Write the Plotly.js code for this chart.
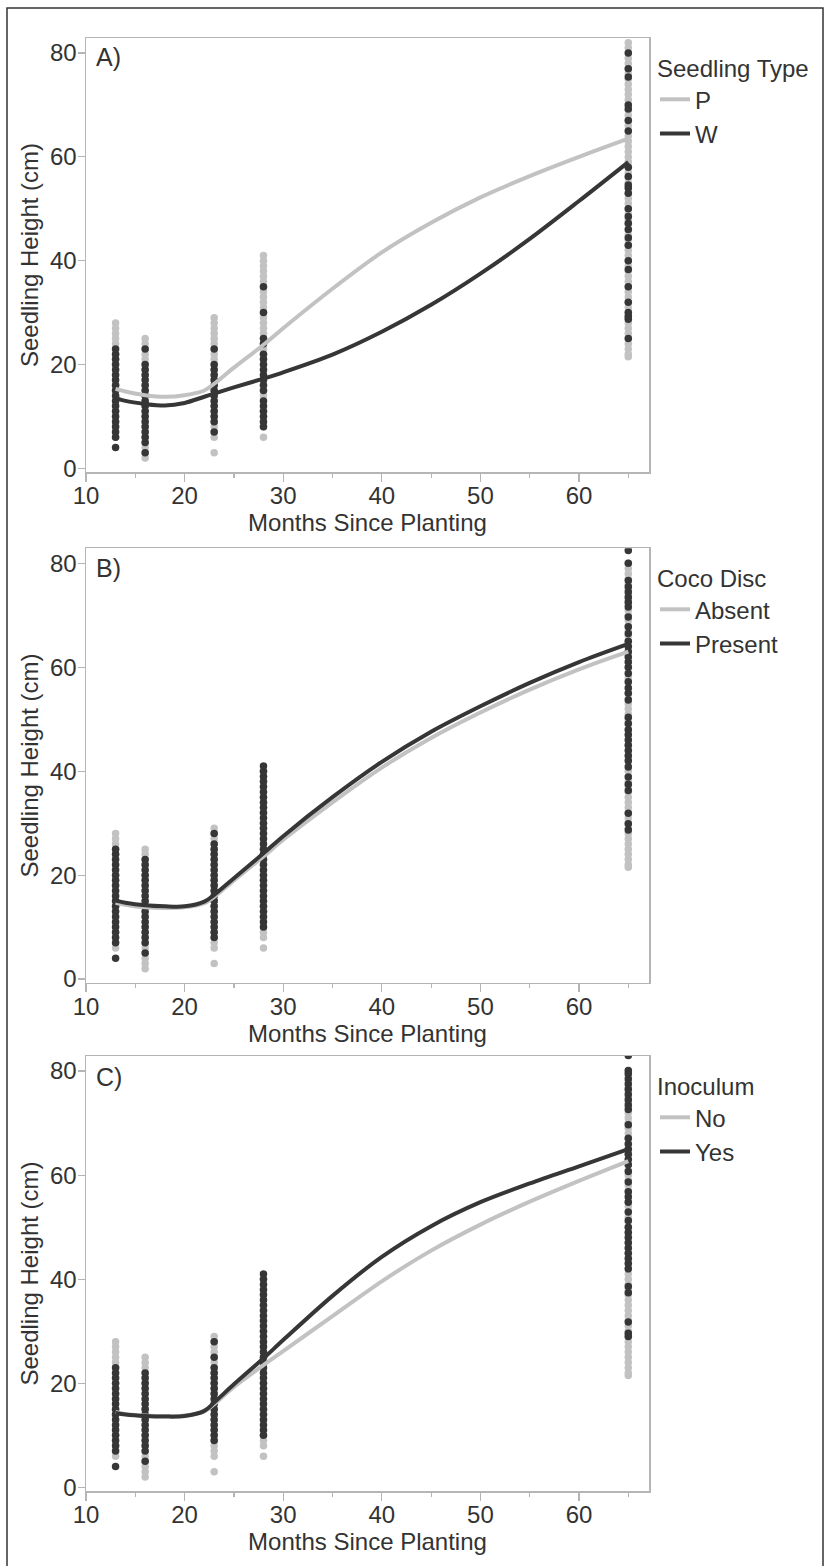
<!DOCTYPE html>
<html>
<head>
<meta charset="utf-8">
<script src="https://cdn.plot.ly/plotly-3.0.1.min.js"></script>
<style>html,body{margin:0;padding:0;background:#fff;}#chart{width:825px;height:1566px;}</style>
</head>
<body>
<div id="chart"></div>
<script>
// ---------- DATA ----------
const months = [13, 16, 23, 28, 65];

// Panel A: Seedling Type
const A_P_heights = [
  [6,7,8,9,10,11,12,13,14,15,16,17,18,19,20,21,22,23,24,25,26,27,28],
  [2,3,4,5,6,7,8,9,10,11,12,13,14,15,16,17,18,19,20,21,22,23,24,25],
  [3,6,7,8,9,10,11,12,13,14,15,16,17,18,19,20,21,22,23,24,25,26,27,28,29],
  [6,8,9,10,11,12,13,14,15,16,17,18,19,20,21,22,23,24,25,26,27,28,29,30,31,32,33,34,35,36,37,38,39,40,41],
  [21.5,22,23,24,25,26,27,28,29,30,31,32,33,34,35,36,37,38,39,40,41,42,43,44,45,46,47,48,49,50,51,52,53,54,55,56,57,58,59,60,61,62,63,64,65,66,67,68,69,70,71,72,73,74,75,76,77,78,79,80,81,82]
];
const A_W_heights = [
  [4,6,7,8,9,10,11,12,13,14,15,16,17,18,19,20,21,22,23],
  [3,5,6,7,8,9,10,11,12,13,14,15,16,17,18,19,20,23],
  [7,9,10,11,12,13,14,15,16,17,18,19,20,23],
  [8,9,10,11,12,13,15,16,17,18,19,20,21,22,24,25,30,35],
  [25,28.7,29.3,30,32,35,38.3,40,43,44.4,46,47.2,48.5,50,53,54,54.6,56.2,58,65,67,69.2,70,75.4,77,80]
];

// Panel B: Coco Disc
const B_Absent_heights = [
  [6,7,8,9,10,11,12,13,14,15,16,17,18,19,20,21,22,23,24,25,26,27,28],
  [2,3,4,5,6,7,8,9,10,11,12,13,14,15,16,17,18,19,20,21,22,23,24,25],
  [3,6,7,8,9,10,11,12,13,14,15,16,17,18,19,20,21,22,23,24,25,26,27,28,29],
  [6,8,9,10,11,12,13,14,15,16,17,18,19,20,21,22,23,24,25,26,27,28,29,30,31,32,33,34,35,36,37,38,39,40],
  [21.5,22,23,24,25,26,27,28,29,30,31,32,33,34,35,36,37,38,39,40,41,42,43,44,45,46,47,48,49,50,51,52,53,54,55,56,57,58,59,60,61,62,63,64,65,66,67,68,69,70,71,72,73,74,75,76,77,78,79,80]
];
const B_Present_heights = [
  [4,7,8,9,10,11,12,13,14,15,16,17,18,19,20,21,22,23,24,25],
  [5,7,8,9,10,11,12,13,14,15,16,17,18,19,20,21,22,23],
  [8,9,10,11,12,13,14,15,16,17,18,19,20,21,22,23,24,25,26,28],
  [10,11,12,13,14,15,16,17,18,19,20,21,22,23,24,25,26,27,28,29,30,31,32,33,34,35,36,37,38,39,40,41],
  [28.7,29.9,31.9,36.3,37.5,38.9,40.8,42,43,44,45,46,47,48,49.2,50.4,53.7,55,56,57.2,58.8,60,61,62,63,64,65,66.5,67.8,69.7,71.6,72.5,73.5,74.5,75.5,76.7,80,82.5]
];

// Panel C: Inoculum
const C_No_heights = [
  [6,7,8,9,10,11,12,13,14,15,16,17,18,19,20,21,22,23,24,25,26,27,28],
  [2,3,4,5,6,7,8,9,10,11,12,13,14,15,16,17,18,19,20,21,22,23,24,25],
  [3,6,7,8,9,10,11,12,13,14,15,16,17,18,19,20,21,22,23,24,25,26,27,28,29],
  [6,8,9,10,11,12,13,14,15,16,17,18,19,20,21,22,23,24,25,26,27,28,29,30,31,32,33,34,35,36,37,38,39,40],
  [21.5,22,23,24,25,26,27,28,29,30,31,32,33,34,35,36,37,38,39,40,41,42,43,44,45,46,47,48,49,50,51,52,53,54,55,56,57,58,59,60,61,62,63,64,65,66,67,68,69,70,71,72,73,74,75,76,77,78,79,80]
];
const C_Yes_heights = [
  [4,7,8,9,10,11,12,13,14,15,16,17,18,19,20,21,22,23],
  [5,7,8,9,10,11,12,13,14,15,16,17,18,19,20,21,22],
  [9,10,11,12,13,14,15,16,17,18,19,20,21,22,23,25,28],
  [10,11,12,13,14,15,16,17,18,19,20,21,22,23,24,25,26,27,28,29,30,31,32,33,34,35,36,37,38,39,40,41],
  [29,29.6,31.8,37.4,38.6,42,43,44,45,46,47,48,49,50,51.3,52.9,54.8,55.8,56.8,58.7,60.7,62,63,64,65,66,67.1,69.7,72.6,73.5,74.5,75.5,76.5,77.5,78.5,79.5,80.1,83]
];

// Smoothed fits
const fitMonths     = [13, 14, 16, 18, 20, 22, 23, 25, 28, 30, 35, 40, 45, 50, 55, 60, 65];
const A_P_fit       = [15.3,14.8,14.1,13.8,14.1,15.0,16.3,19.4,23.8,27.0,34.6,41.6,47.3,52.2,56.3,60.0,63.5];
const A_W_fit       = [13.6,13.0,12.4,12.1,12.6,13.8,14.4,15.6,17.3,18.5,21.9,26.3,31.5,37.5,44.2,51.5,59.0];
const B_Absent_fit  = [14.7,14.3,13.8,13.7,13.8,14.6,15.8,19.0,23.6,26.8,34.0,40.7,46.4,51.3,55.7,59.6,63.0];
const B_Present_fit = [15.1,14.7,14.2,14.0,14.0,14.9,16.2,19.4,24.2,27.5,35.0,41.8,47.6,52.5,57.0,61.0,64.5];
const C_No_fit      = [14.5,14.1,13.8,13.7,13.8,14.6,16.0,19.3,23.5,26.2,32.9,39.6,45.5,50.5,54.9,58.9,62.7];
const C_Yes_fit     = [14.3,14.0,13.7,13.6,13.7,14.7,16.3,19.8,24.8,28.3,36.8,44.3,50.2,54.8,58.4,61.7,65.0];

const panelLabels  = ['A)', 'B)', 'C)'];
const legendTitles = ['Seedling Type', 'Coco Disc', 'Inoculum'];
const groupNames   = [['P', 'W'], ['Absent', 'Present'], ['No', 'Yes']];
const xTickVals = [10, 20, 30, 40, 50, 60];
const xMinorTickVals = [15, 25, 35, 45, 55, 65];
const yTickVals = [0, 20, 40, 60, 80];

// ---------- STYLE ----------
const LIGHT = '#c2c2c2';
const DARK = '#363636';
const TXT = '#333333';
const FONT = 'Liberation Sans, Arial, sans-serif';
const FS = 24;

function flatten(heights) {
  const x = [], y = [];
  heights.forEach((arr, i) => arr.forEach(v => { x.push(months[i]); y.push(v); }));
  return {x, y};
}

const panels = [
  {light: A_P_heights, dark: A_W_heights, lightFit: A_P_fit, darkFit: A_W_fit},
  {light: B_Absent_heights, dark: B_Present_heights, lightFit: B_Absent_fit, darkFit: B_Present_fit},
  {light: C_No_heights, dark: C_Yes_heights, lightFit: C_No_fit, darkFit: C_Yes_fit}
];

const traces = [];
panels.forEach((p, i) => {
  const sfx = i === 0 ? '' : String(i + 1);
  const xa = 'x' + sfx, ya = 'y' + sfx, lg = 'legend' + sfx;
  const L = flatten(p.light), D = flatten(p.dark);
  traces.push({type: 'scatter', mode: 'markers', x: L.x, y: L.y, xaxis: xa, yaxis: ya,
    marker: {size: 7.5, color: LIGHT}, showlegend: false, hoverinfo: 'skip'});
  traces.push({type: 'scatter', mode: 'markers', x: D.x, y: D.y, xaxis: xa, yaxis: ya,
    marker: {size: 7.5, color: DARK}, showlegend: false, hoverinfo: 'skip'});
  traces.push({type: 'scatter', mode: 'lines', x: fitMonths, y: p.lightFit, xaxis: xa, yaxis: ya,
    name: groupNames[i][0], legend: lg, line: {color: LIGHT, width: 4, shape: 'spline', smoothing: 0.9}});
  traces.push({type: 'scatter', mode: 'lines', x: fitMonths, y: p.darkFit, xaxis: xa, yaxis: ya,
    name: groupNames[i][1], legend: lg, line: {color: DARK, width: 4, shape: 'spline', smoothing: 0.9}});
});

// pixel helpers (plot area: x 86..649, y 38..1491)
const W = 825, H = 1566, ML = 86, MR = 176, MT = 38, MB = 75;
const PW = W - ML - MR, PH = H - MT - MB;
const px2x = px => (px - ML) / PW;
const px2y = py => (H - MB - py) / PH;

const yDomains = [[px2y(472), px2y(38)], [px2y(982.7), px2y(548.3)], [px2y(1491), px2y(1056)]];
const legendTops = [46, 556, 1064];

function xaxis(i) {
  return {
    domain: [0, 1], anchor: i === 0 ? 'y' : 'y' + (i + 1), range: [10, 67.1],
    tickvals: xTickVals, ticks: 'outside', ticklen: 8, tickwidth: 1.2, tickcolor: '#b5b5b5',
    ticklabelstandoff: -6,
    minor: {tickvals: xMinorTickVals, ticks: 'outside', ticklen: 4, tickwidth: 1.2, tickcolor: '#b5b5b5'},
    showline: true, mirror: true, linecolor: '#b5b5b5', linewidth: 1.5,
    showgrid: false, zeroline: false,
    tickfont: {family: FONT, size: FS, color: TXT},
    title: {text: 'Months Since Planting', font: {family: FONT, size: FS, color: TXT}, standoff: 0}
  };
}
function yaxis(i) {
  return {
    domain: yDomains[i], anchor: i === 0 ? 'x' : 'x' + (i + 1), range: [-0.7, 82.9],
    tickvals: yTickVals, ticks: 'outside', ticklen: 7, tickwidth: 1.2, tickcolor: '#b5b5b5',
    ticklabelstandoff: -4,
    showline: true, mirror: true, linecolor: '#b5b5b5', linewidth: 1.5,
    showgrid: false, zeroline: false,
    tickfont: {family: FONT, size: FS, color: TXT},
    title: {text: 'Seedling Height (cm)', font: {family: FONT, size: FS, color: TXT}, standoff: 4}
  };
}
function legend(i) {
  return {
    x: px2x(655), xanchor: 'left', y: px2y(legendTops[i]), yanchor: 'top',
    bgcolor: 'rgba(0,0,0,0)', borderwidth: 0, itemwidth: 30, tracegroupgap: 0,
    font: {family: FONT, size: FS, color: TXT},
    title: {text: legendTitles[i], font: {family: FONT, size: FS, color: TXT}, side: 'top'}
  };
}

const layout = {
  width: W, height: H, margin: {l: ML, r: MR, t: MT, b: MB, pad: 0},
  paper_bgcolor: '#ffffff', plot_bgcolor: '#ffffff',
  font: {family: FONT, color: TXT},
  xaxis: xaxis(0), yaxis: yaxis(0), xaxis2: xaxis(1), yaxis2: yaxis(1), xaxis3: xaxis(2), yaxis3: yaxis(2),
  legend: legend(0), legend2: legend(1), legend3: legend(2),
  annotations: panelLabels.map((t, i) => ({
    text: t, showarrow: false, xref: 'paper', x: px2x(94), xanchor: 'left',
    yref: 'paper', y: px2y([57, 568, 1077][i]), yanchor: 'middle',
    font: {family: FONT, size: 25, color: TXT}
  })),
  shapes: [{type: 'rect', xref: 'paper', yref: 'paper', x0: px2x(7), x1: px2x(823), y0: px2y(1580), y1: px2y(8),
    line: {color: '#333333', width: 1.5}, fillcolor: 'rgba(0,0,0,0)', layer: 'below'}]
};

Plotly.newPlot('chart', traces, layout, {staticPlot: true, displayModeBar: false});
</script>
</body>
</html>
